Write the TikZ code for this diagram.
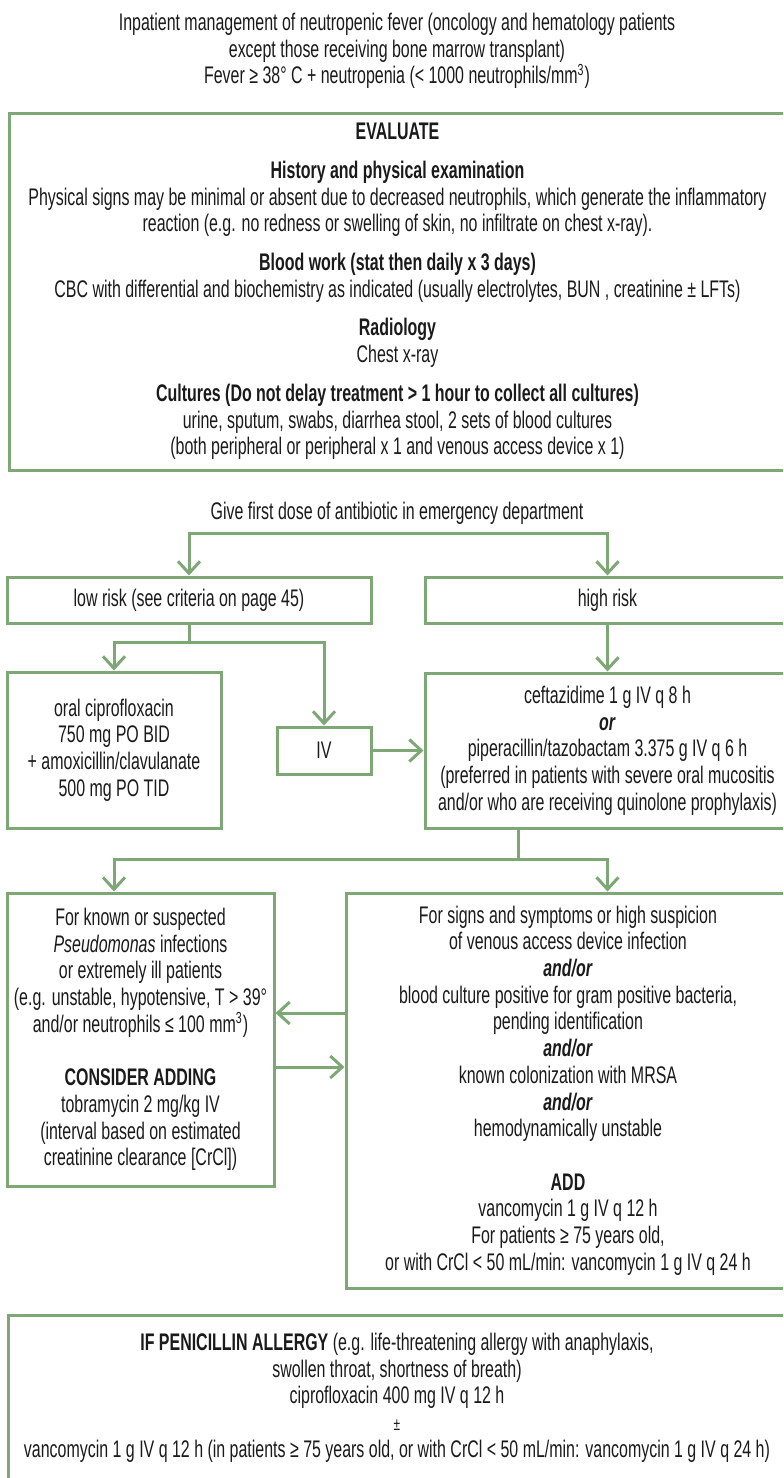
\documentclass[tikz,border=0pt]{standalone}
\usepackage{fontspec}
\setmainfont{Liberation Sans}[FakeStretch=0.665]
\usepackage{tikz}
\usetikzlibrary{arrows.meta,positioning,calc}
\definecolor{leaf}{HTML}{7DA876}
\definecolor{ink}{HTML}{1A1A1A}
\newcommand{\flowfont}{\fontsize{12}{13.35}\selectfont}
\newcommand{\andor}{\textbf{\textit{and/or}}}
\tikzset{
  greenbox/.style={draw=leaf,line width=1.5pt,align=center,inner sep=0pt,
                   font=\flowfont,text=ink},
  textnode/.style={align=center,font=\flowfont,text=ink,inner sep=0pt},
  greenline/.style={draw=leaf,line width=1.5pt},
  greenarr/.style={greenline,-{Straight Barb[length=6pt,width=11pt]}}
}

\begin{document}
\begin{tikzpicture}[x=0.5pt,y=-0.5pt]
  \useasboundingbox (0,0) rectangle (783,1478);
  \clip (0,0) rectangle (783,1478);

  % heading and evaluation
  \node[textnode] (title) at (397,51)
    {Inpatient management of neutropenic fever (oncology and hematology patients\\
     except those receiving bone marrow transplant)\\
     Fever ≥ 38° C + neutropenia (< 1000 neutrophils/mm\textsuperscript{3})};
  \node[greenbox,minimum width=388.5pt,minimum height=178.5pt] (evaluate) at (397.5,291.5)
    {\textbf{EVALUATE}\\[6pt]
     \textbf{History and physical examination}\\
     Physical signs may be minimal or absent due to decreased neutrophils, which generate the inflammatory\\
     reaction (e.g. no redness or swelling of skin, no infiltrate on chest x-ray).\\[6pt]
     \textbf{Blood work (stat then daily x 3 days)}\\
     CBC with differential and biochemistry as indicated (usually electrolytes, BUN , creatinine ± LFTs)\\[6pt]
     \textbf{Radiology}\\
     Chest x-ray\\[6pt]
     \textbf{Cultures (Do not delay treatment > 1 hour to collect all cultures)}\\
     urine, sputum, swabs, diarrhea stool, 2 sets of blood cultures\\
     (both peripheral or peripheral x 1 and venous access device x 1)};
  \node[textnode] (firstdose) at (397,513)
    {Give first dose of antibiotic in emergency department};

  % risk groups
  \node[greenbox,minimum width=182pt,minimum height=23pt] (lowrisk) at (189,600)
    {low risk (see criteria on page 45)};
  \node[greenbox,minimum width=182.5pt,minimum height=23pt] (highrisk) at (607.5,600)
    {high risk};
  \node[greenbox,minimum width=107pt,minimum height=78pt] (oral) at (114,750)
    {oral ciprofloxacin\\ 750 mg PO BID\\ + amoxicillin/clavulanate\\ 500 mg PO TID};
  \node[greenbox,minimum width=47pt,minimum height=23.5pt] (ivbox) at (324,750.5) {IV};
  \node[greenbox,minimum width=182.5pt,minimum height=77.5pt] (drug) at (607.5,750.5)
    {ceftazidime 1 g IV q 8 h\\ \textbf{\textit{or}}\\
     piperacillin/tazobactam 3.375 g IV q 6 h\\
     (preferred in patients with severe oral mucositis\\
     and/or who are receiving quinolone prophylaxis)};

  % additions
  \node[greenbox,minimum width=133.5pt,minimum height=146.5pt] (pseudo) at (140.5,1039.5)
    {For known or suspected\\ \textit{Pseudomonas} infections\\ or extremely ill patients\\
     (e.g. unstable, hypotensive, T > 39°\\
     and/or neutrophils ≤ 100 mm\textsuperscript{3})\\[13.35pt]
     \textbf{CONSIDER ADDING}\\ tobramycin 2 mg/kg IV\\
     (interval based on estimated\\ creatinine clearance [CrCl])};
  \node[greenbox,minimum width=222pt,minimum height=197.5pt] (vanco) at (568,1090.5)
    {For signs and symptoms or high suspicion\\ of venous access device infection\\ \andor\\
     blood culture positive for gram positive bacteria,\\ pending identification\\ \andor\\
     known colonization with MRSA\\ \andor\\ hemodynamically unstable\\[13.35pt]
     \textbf{ADD}\\ vancomycin 1 g IV q 12 h\\ For patients ≥ 75 years old,\\
     or with CrCl < 50 mL/min: vancomycin 1 g IV q 24 h};
  \node[greenbox,minimum width=389pt,minimum height=82.5pt] (allergy) at (397,1397.5)
    {\textbf{IF PENICILLIN ALLERGY} (e.g. life-threatening allergy with anaphylaxis,\\
     swollen throat, shortness of breath)\\ ciprofloxacin 400 mg IV q 12 h\\ {\fontsize{9}{9}\selectfont ±}\\
     vancomycin 1 g IV q 12 h (in patients ≥ 75 years old, or with CrCl < 50 mL/min: vancomycin 1 g IV q 24 h)};

  % connectors
  \coordinate (splitA) at (397,533);
  \draw[greenarr] (splitA) -| (lowrisk);
  \draw[greenarr] (splitA) -| (highrisk);
  \coordinate (splitB) at (189,642);
  \draw[greenline] (lowrisk) -- (splitB);
  \draw[greenarr] (splitB) -| (oral);
  \draw[greenarr] (splitB) -| (ivbox);
  \draw[greenarr] (highrisk) -- (drug);
  \draw[greenarr] (ivbox) -- (drug);
  \coordinate (splitC) at (518,859);
  \draw[greenline] (drug.south -| splitC) -- (splitC);
  \draw[greenarr] (splitC) -| (pseudo.north -| oral);
  \draw[greenarr] (splitC) -| (vanco.north -| highrisk);
  \coordinate (backY) at (0,1013);
  \coordinate (fwdY) at (0,1067);
  \draw[greenarr] (vanco.west |- backY) -- (pseudo.east |- backY);
  \draw[greenarr] (pseudo.east |- fwdY) -- (vanco.west |- fwdY);
\end{tikzpicture}
\end{document}
